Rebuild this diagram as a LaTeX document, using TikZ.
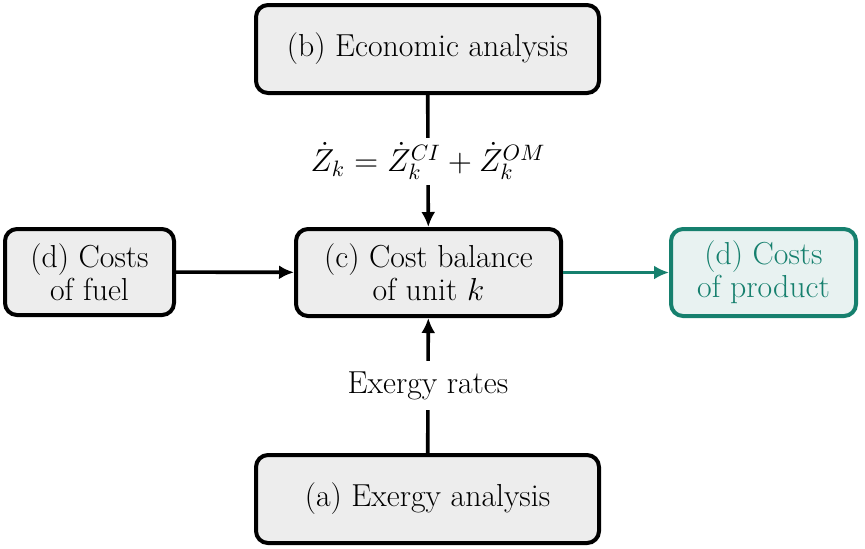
\RequirePackage{fix-cm}
\documentclass[tikz,border=0pt]{standalone}
\usetikzlibrary{arrows.meta}
\definecolor{boxgray}{RGB}{237,237,237}
\definecolor{teal}{RGB}{22,128,110}
\definecolor{tealfill}{RGB}{232,242,241}
\begin{document}
\begin{tikzpicture}[x=0.5pt,y=-0.5pt,
  every node/.style={font=\fontsize{15.9}{16.6}\selectfont},
  box/.style={draw=black, fill=boxgray, line width=2pt, rounded corners=6pt, align=center, inner sep=0pt},
  conn/.style={line width=1.8pt, -{Latex[length=7.5pt,width=7pt]}},
  lbl/.style={fill=white, inner xsep=2pt}
]
\useasboundingbox (0,0) rectangle (865,548);
\node[box, minimum width=171.5pt, minimum height=44pt] (b) at (427.5,49) {(b) Economic analysis};
\node[box, minimum width=132.5pt, minimum height=43.5pt] (c) at (428.5,272.5) {(c) Cost balance\\of unit $k$};
\node[box, minimum width=84.5pt, minimum height=43pt] (dl) at (89.5,272) {(d) Costs\\of fuel};
\node[box, draw=teal, fill=tealfill, text=teal, minimum width=92.5pt, minimum height=43.5pt] (dr) at (763.5,272.5) {(d) Costs\\of product};
\node[box, minimum width=171.5pt, minimum height=44pt] (a) at (427.5,499) {(a) Exergy analysis};
\draw[conn] (b) -- (c) node[lbl, midway, inner ysep=2.5pt] (zl) {$\dot Z_k = \dot Z_k^{CI} + \dot Z_k^{OM}$};
\draw[conn] (a) -- (c) node[lbl, midway, inner ysep=5pt] (el) {Exergy rates};
\draw[conn] (dl) -- (c);
\draw[conn, draw=teal, fill=teal] (c) -- (dr);
\end{tikzpicture}
\end{document}
